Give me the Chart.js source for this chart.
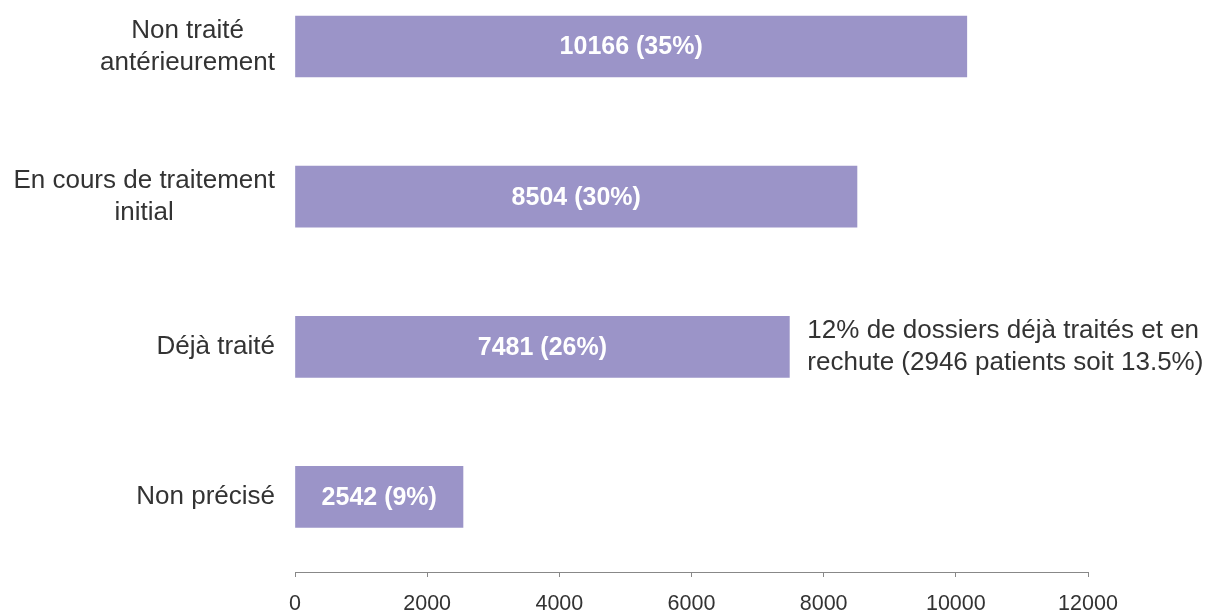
<!DOCTYPE html>
<html>
<head>
<meta charset="utf-8">
<script src="https://cdn.jsdelivr.net/npm/chart.js@4/dist/chart.umd.min.js"></script>
<style>
  html, body { margin: 0; padding: 0; background: #fff; }
  #wrap { width: 1214px; height: 612px; position: relative; }
</style>
</head>
<body>
<div id="wrap"><canvas id="c" width="1214" height="612"></canvas></div>
<script>
const categories = [
  ['Non traité', 'antérieurement'],
  ['En cours de traitement', 'initial'],
  ['Déjà traité'],
  ['Non précisé']
];
const values = [10166, 8504, 7481, 2542];
const percents = ['35%', '30%', '26%', '9%'];
const xTicks = [0, 2000, 4000, 6000, 8000, 10000, 12000];
const annotationLines = ['12% de dossiers déjà traités et en', 'rechute (2946 patients soit 13.5%)'];
const annotationIndex = 2;

const FONT = '"Liberation Sans", Arial, Helvetica, sans-serif';
const TEXT = '#333333';
const BAR = '#9b94c8';

const yLabelPlugin = {
  id: 'yLabels',
  afterDraw(chart) {
    const ctx = chart.ctx;
    const ys = chart.scales.y;
    const right = chart.chartArea.left - 20;
    ctx.save();
    ctx.font = '26px ' + FONT;
    ctx.fillStyle = TEXT;
    ctx.textAlign = 'center';
    ctx.textBaseline = 'middle';
    categories.forEach((lines, i) => {
      const y = ys.getPixelForValue(i);
      const w = Math.max(...lines.map(l => ctx.measureText(l).width));
      const lh = 32;
      const y0 = y - (lines.length - 1) * lh / 2;
      lines.forEach((l, k) => ctx.fillText(l, right - w / 2, y0 + k * lh));
    });
    ctx.restore();
  }
};

const barLabelPlugin = {
  id: 'barLabels',
  afterDatasetsDraw(chart) {
    const ctx = chart.ctx;
    const meta = chart.getDatasetMeta(0);
    ctx.save();
    ctx.font = 'bold 25px ' + FONT;
    ctx.fillStyle = '#ffffff';
    ctx.textAlign = 'center';
    ctx.textBaseline = 'middle';
    meta.data.forEach((bar, i) => {
      const x = (bar.x + bar.base) / 2;
      ctx.fillText(values[i] + ' (' + percents[i] + ')', x, bar.y + 1);
    });
    const b = meta.data[annotationIndex];
    ctx.font = '26px ' + FONT;
    ctx.fillStyle = TEXT;
    ctx.textAlign = 'left';
    const lh = 32;
    const y0 = b.y - (annotationLines.length - 1) * lh / 2;
    annotationLines.forEach((l, k) => ctx.fillText(l, b.x + 18, y0 + k * lh));
    ctx.restore();
  }
};

new Chart(document.getElementById('c'), {
  type: 'bar',
  data: {
    datasets: [{
      data: values.map((v, i) => ({ x: v, y: i })),
      backgroundColor: BAR,
      borderWidth: 0,
      barThickness: 61
    }]
  },
  options: {
    indexAxis: 'y',
    responsive: false,
    animation: false,
    devicePixelRatio: 1,
    layout: { padding: { top: 0, right: 126, bottom: 0, left: 0 } },
    plugins: { legend: { display: false }, tooltip: { enabled: false } },
    scales: {
      x: {
        type: 'linear',
        min: 0,
        max: 12000,
        afterBuildTicks(scale) { scale.ticks = xTicks.map(v => ({ value: v })); },
        afterFit(scale) { scale.height = 40; },
        border: { display: true, color: '#888888', width: 1 },
        grid: { display: true, drawOnChartArea: false, drawTicks: true, tickLength: 5, color: '#888888' },
        ticks: { font: { size: 21.5, family: FONT }, color: TEXT, padding: 14, maxRotation: 0,
                 callback: v => String(v) }
      },
      y: {
        type: 'linear',
        reverse: true,
        offset: false,
        min: -0.31,
        max: 3.5,
        afterBuildTicks(scale) { scale.ticks = categories.map((c, i) => ({ value: i })); },
        afterFit(scale) { scale.width = 295; },
        border: { display: false },
        grid: { display: false },
        ticks: { display: false }
      }
    }
  },
  plugins: [yLabelPlugin, barLabelPlugin]
});
</script>
</body>
</html>
